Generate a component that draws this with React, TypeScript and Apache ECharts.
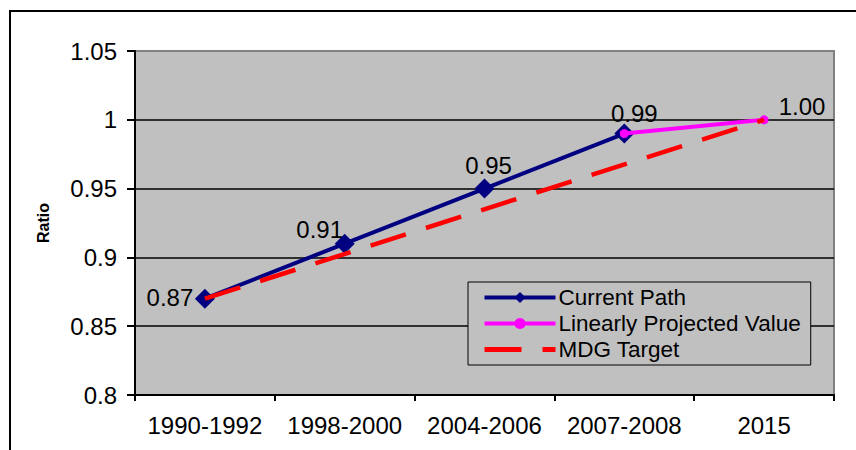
import { useEffect, useRef } from 'react';
import * as echarts from 'echarts';

// categories on the x axis
const periods = ['1990-1992', '1998-2000', '2004-2006', '2007-2008', '2015'];

// series values
const currentPath = [0.87, 0.91, 0.95, 0.99, null];
const projected = [null, null, null, 0.99, 1.0];
const mdgTarget = [0.87, null, null, null, 1.0];

// label offsets for the value labels (dx, dy from the marker)
const currentOffsets = [[-35, -1], [-25, -14], [4, -23], [10, -20]];
const projectedOffsets = [null, null, null, null, [38, -13]];

const NUM_FONT = 24;
const TXT_FONT = 22.5;
const FONT = '"Liberation Sans", Arial, sans-serif';

export default function App() {
  const chartRef = useRef<HTMLDivElement>(null);

  useEffect(() => {
    if (!chartRef.current) return;
    const chart = echarts.init(chartRef.current, undefined, { renderer: 'svg' });

    const labelFor = (offsets: (number[] | null)[], i: number) => {
      const off = offsets[i];
      if (!off) return { show: false };
      return {
        show: true,
        position: 'inside',
        offset: off,
        formatter: (p: any) => Number(p.value).toFixed(2),
        color: '#000',
        fontSize: NUM_FONT,
        fontFamily: FONT,
      };
    };

    const option: echarts.EChartsOption = {
      animation: false,
      backgroundColor: '#fff',
      textStyle: { fontFamily: FONT },
      graphic: [
        {
          type: 'rect',
          shape: { x: 10, y: 11, width: 900, height: 500 },
          style: { fill: 'none', stroke: '#000', lineWidth: 2 },
          z: 100,
        },
      ],
      grid: {
        left: 135,
        right: 22,
        top: 51,
        bottom: 55,
        show: true,
        backgroundColor: '#C0C0C0',
        borderColor: '#808080',
        borderWidth: 2,
      },
      legend: {
        orient: 'vertical',
        left: 468,
        top: 282,
        padding: [4, 10, 4, 14],
        itemGap: 3,
        itemWidth: 71,
        itemHeight: 14,
        backgroundColor: '#C0C0C0',
        borderColor: '#000',
        borderWidth: 1,
        borderRadius: 0,
        textStyle: { fontSize: TXT_FONT, color: '#000', fontFamily: FONT, padding: [0, 0, 0, -2] },
        data: [
          { name: 'Current Path', lineStyle: { width: 4 } },
          { name: 'Linearly Projected Value', lineStyle: { width: 4 } },
          { name: 'MDG Target', lineStyle: { width: 5 }, itemStyle: { opacity: 0 } },
        ] as any,
      },
      xAxis: {
        type: 'category',
        data: periods,
        boundaryGap: true,
        axisLine: { lineStyle: { color: '#000', width: 2 } },
        axisTick: { show: true, length: 6, lineStyle: { color: '#000', width: 2 } },
        axisLabel: { color: '#000', fontSize: NUM_FONT, margin: 18, fontFamily: FONT, interval: 0 },
        splitLine: { show: false },
      },
      yAxis: {
        type: 'value',
        min: 0.8,
        max: 1.05,
        interval: 0.05,
        name: 'Ratio',
        nameLocation: 'middle',
        nameGap: 84,
        nameTextStyle: { fontSize: 16, fontWeight: 'bold', color: '#000', fontFamily: FONT },
        axisLine: { show: true, lineStyle: { color: '#000', width: 2 } },
        axisTick: { show: true, length: 8, lineStyle: { color: '#000', width: 2 } },
        axisLabel: {
          color: '#000',
          fontSize: NUM_FONT,
          margin: 18,
          fontFamily: FONT,
          formatter: (v: number) => String(Number(v.toFixed(2))),
        },
        splitLine: {
          show: true,
          lineStyle: { color: ['#000', '#000', '#000', '#000', '#000', '#808080'], width: 1.5 },
        },
      },
      series: [
        {
          name: 'Current Path',
          type: 'line',
          data: currentPath.map((v, i) => ({ value: v, label: labelFor(currentOffsets, i) })) as any,
          symbol: 'diamond',
          symbolSize: 20,
          itemStyle: { color: '#000080' },
          lineStyle: { color: '#000080', width: 4 },
          z: 2,
        },
        {
          name: 'Linearly Projected Value',
          type: 'line',
          data: projected.map((v, i) => ({ value: v, label: labelFor(projectedOffsets, i) })) as any,
          symbol: 'circle',
          symbolSize: 9,
          itemStyle: { color: '#FF00FF' },
          lineStyle: { color: '#FF00FF', width: 4 },
          z: 3,
        },
        {
          name: 'MDG Target',
          type: 'line',
          data: mdgTarget,
          connectNulls: true,
          symbol: 'none',
          itemStyle: { color: '#FF0000' },
          lineStyle: { color: '#FF0000', width: 4.5, type: [37, 21] },
          z: 4,
        },
      ],
    };

    chart.setOption(option);
    return () => chart.dispose();
  }, []);

  return (
    <div
      ref={chartRef}
      style={{ position: 'absolute', left: 0, top: 0, width: 856, height: 450 }}
    />
  );
}
